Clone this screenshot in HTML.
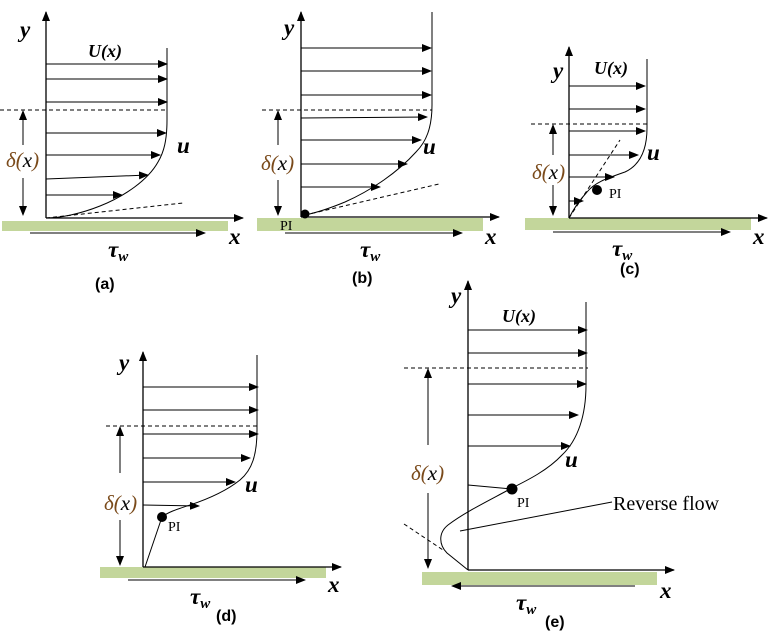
<!DOCTYPE html>
<html><head><meta charset="utf-8"><style>
html,body{margin:0;padding:0;background:#fff}
svg{display:block}
.ax{stroke:#000;stroke-width:1.3;fill:none}
.ar{stroke:#000;stroke-width:1;fill:none}
.cv{stroke:#000;stroke-width:1;fill:none}
.ds{stroke:#000;stroke-width:1;stroke-dasharray:4,3;fill:none}
.bar{fill:#c3d69b}
.lab{font-family:"Liberation Serif",serif;font-style:italic;font-weight:bold;font-size:23px}
.lab2{font-family:"Liberation Serif",serif;font-style:italic;font-weight:bold;font-size:18px}
.dl{font-family:"Liberation Serif",serif;font-style:italic;font-size:21px;fill:#7a4a1a}
.pi{font-family:"Liberation Serif",serif;font-size:14px}
.cap{font-family:"Liberation Sans",sans-serif;font-size:16px;font-weight:bold}
</style></head><body>
<svg width="777" height="633" viewBox="0 0 777 633" xmlns="http://www.w3.org/2000/svg">
<defs>
<marker id="a" markerWidth="10" markerHeight="8" refX="9" refY="4" orient="auto" markerUnits="userSpaceOnUse"><path d="M0,0 L10,4 L0,8 z" fill="#000"/></marker>
</defs>

<!-- (a) -->
<rect class="bar" x="2" y="221" width="226" height="10"/>
<line class="ax" x1="46" y1="218" x2="46" y2="12" marker-end="url(#a)"/>
<line class="ax" x1="46" y1="218" x2="243" y2="218" marker-end="url(#a)"/>
<line class="ar" x1="30" y1="233" x2="205" y2="233" marker-end="url(#a)"/>
<line class="ar" x1="46" y1="64" x2="167" y2="64" marker-end="url(#a)"/>
<line class="ar" x1="46" y1="79" x2="167" y2="79" marker-end="url(#a)"/>
<line class="ar" x1="46" y1="102" x2="167" y2="102" marker-end="url(#a)"/>
<line class="ds" x1="0" y1="110" x2="167" y2="110"/>
<line class="ar" x1="46" y1="133" x2="166" y2="133" marker-end="url(#a)"/>
<line class="ar" x1="46" y1="155" x2="160" y2="155" marker-end="url(#a)"/>
<line class="ar" x1="46" y1="179" x2="148" y2="175" marker-end="url(#a)"/>
<line class="ar" x1="46" y1="195" x2="122" y2="195" marker-end="url(#a)"/>
<path class="cv" d="M167,48 L167,120 C167,140 164,152 158,162 C148,180 125,196 100,206 C80,214 60,218 46,218"/>
<line class="ds" x1="46" y1="218" x2="183" y2="203"/>
<line class="ar" x1="23" y1="145" x2="23" y2="111" marker-end="url(#a)"/>
<line class="ar" x1="23" y1="178" x2="23" y2="215" marker-end="url(#a)"/>
<text class="dl" x="6" y="167">δ(<tspan fill="#000">x</tspan>)</text>
<text class="lab" x="20" y="37">y</text>
<text class="lab2" x="88" y="57">U(x)</text>
<text class="lab" x="177" y="153">u</text>
<text class="lab" x="229" y="244">x</text>
<text class="lab" x="108" y="257">τ<tspan font-size="15" dy="4">w</tspan></text>
<text class="cap" x="95" y="289">(a)</text>

<!-- (b) -->
<rect class="bar" x="257" y="218" width="226" height="13"/>
<line class="ax" x1="301" y1="217" x2="301" y2="12" marker-end="url(#a)"/>
<line class="ax" x1="301" y1="217" x2="499" y2="217" marker-end="url(#a)"/>
<line class="ar" x1="285" y1="233" x2="462" y2="233" marker-end="url(#a)"/>
<line class="ar" x1="301" y1="48" x2="431" y2="48" marker-end="url(#a)"/>
<line class="ar" x1="301" y1="71" x2="431" y2="71" marker-end="url(#a)"/>
<line class="ar" x1="301" y1="95" x2="431" y2="95" marker-end="url(#a)"/>
<line class="ds" x1="262" y1="110" x2="432" y2="110"/>
<line class="ar" x1="301" y1="118" x2="427" y2="117" marker-end="url(#a)"/>
<line class="ar" x1="301" y1="140" x2="421" y2="140" marker-end="url(#a)"/>
<line class="ar" x1="301" y1="164" x2="407" y2="164" marker-end="url(#a)"/>
<line class="ar" x1="301" y1="187" x2="380" y2="187" marker-end="url(#a)"/>
<path class="cv" d="M432,12 L432,105 C432,128 426,142 416,152 C398,172 372,190 345,202 C328,209 315,213 305,215"/>
<line class="ds" x1="305" y1="215" x2="439" y2="184"/>
<circle cx="305" cy="214" r="4.5" fill="#000"/>
<line class="ar" x1="278" y1="145" x2="278" y2="111" marker-end="url(#a)"/>
<line class="ar" x1="278" y1="180" x2="278" y2="215" marker-end="url(#a)"/>
<text class="dl" x="261" y="170">δ(<tspan fill="#000">x</tspan>)</text>
<text class="lab" x="284" y="35">y</text>
<text class="lab" x="423" y="154">u</text>
<text class="pi" x="280" y="230">PI</text>
<text class="lab" x="485" y="244">x</text>
<text class="lab" x="360" y="257">τ<tspan font-size="15" dy="4">w</tspan></text>
<text class="cap" x="352" y="283">(b)</text>

<!-- (c) -->
<rect class="bar" x="525" y="218" width="226" height="12"/>
<line class="ax" x1="569" y1="218" x2="569" y2="47" marker-end="url(#a)"/>
<line class="ax" x1="569" y1="218" x2="767" y2="218" marker-end="url(#a)"/>
<line class="ar" x1="553" y1="232" x2="730" y2="232" marker-end="url(#a)"/>
<line class="ar" x1="569" y1="86" x2="645" y2="86" marker-end="url(#a)"/>
<line class="ar" x1="569" y1="109" x2="645" y2="109" marker-end="url(#a)"/>
<line class="ds" x1="531" y1="124" x2="647" y2="124"/>
<line class="ar" x1="569" y1="131" x2="645" y2="131" marker-end="url(#a)"/>
<line class="ar" x1="569" y1="155" x2="638" y2="155" marker-end="url(#a)"/>
<line class="ar" x1="569" y1="177" x2="614" y2="177" marker-end="url(#a)"/>
<line class="ar" x1="569" y1="201" x2="583" y2="201" marker-end="url(#a)"/>
<path class="cv" d="M647,59 L647,128 C647,150 640,165 625,172 C608,178 595,182 587,192 C578,202 572,212 569,218"/>
<line class="ds" x1="569" y1="218" x2="620" y2="140"/>
<circle cx="597" cy="190" r="5" fill="#000"/>
<line class="ar" x1="553" y1="155" x2="553" y2="125" marker-end="url(#a)"/>
<line class="ar" x1="553" y1="185" x2="553" y2="215" marker-end="url(#a)"/>
<text class="dl" x="532" y="179">δ(<tspan fill="#000">x</tspan>)</text>
<text class="lab" x="553" y="78">y</text>
<text class="lab2" x="594" y="74">U(x)</text>
<text class="lab" x="647" y="160">u</text>
<text class="pi" x="609" y="198">PI</text>
<text class="lab" x="753" y="244">x</text>
<text class="lab" x="612" y="256">τ<tspan font-size="15" dy="4">w</tspan></text>
<text class="cap" x="620" y="274">(c)</text>

<!-- (d) -->
<rect class="bar" x="100" y="567" width="226" height="11"/>
<line class="ax" x1="143" y1="567" x2="143" y2="352" marker-end="url(#a)"/>
<line class="ax" x1="143" y1="567" x2="341" y2="567" marker-end="url(#a)"/>
<line class="ar" x1="128" y1="580" x2="305" y2="580" marker-end="url(#a)"/>
<line class="ar" x1="143" y1="387" x2="258" y2="387" marker-end="url(#a)"/>
<line class="ar" x1="143" y1="410" x2="258" y2="410" marker-end="url(#a)"/>
<line class="ds" x1="106" y1="426" x2="257" y2="426"/>
<line class="ar" x1="143" y1="434" x2="258" y2="434" marker-end="url(#a)"/>
<line class="ar" x1="143" y1="458" x2="250" y2="458" marker-end="url(#a)"/>
<line class="ar" x1="143" y1="482" x2="235" y2="482" marker-end="url(#a)"/>
<line class="ar" x1="143" y1="505" x2="199" y2="506" marker-end="url(#a)"/>
<path class="cv" d="M257,355 L257,430 C257,455 252,470 240,480 C225,492 205,500 190,505 C178,509 168,512 162,517 L145,567"/>
<circle cx="162" cy="517" r="5" fill="#000"/>
<line class="ar" x1="120" y1="473" x2="120" y2="427" marker-end="url(#a)"/>
<line class="ar" x1="120" y1="520" x2="120" y2="565" marker-end="url(#a)"/>
<text class="dl" x="104" y="510">δ(<tspan fill="#000">x</tspan>)</text>
<text class="lab" x="119" y="370">y</text>
<text class="lab" x="245" y="492">u</text>
<text class="pi" x="168" y="531">PI</text>
<text class="lab" x="328" y="592">x</text>
<text class="lab" x="190" y="604">τ<tspan font-size="15" dy="4">w</tspan></text>
<text class="cap" x="216" y="621">(d)</text>

<!-- (e) -->
<rect class="bar" x="422" y="572" width="235" height="13"/>
<line class="ax" x1="468" y1="570" x2="468" y2="281" marker-end="url(#a)"/>
<line class="ax" x1="468" y1="570" x2="674" y2="570" marker-end="url(#a)"/>
<line class="ar" x1="635" y1="586" x2="452" y2="586" marker-end="url(#a)"/>
<line class="ar" x1="468" y1="330" x2="587" y2="330" marker-end="url(#a)"/>
<line class="ar" x1="468" y1="353" x2="587" y2="353" marker-end="url(#a)"/>
<line class="ds" x1="404" y1="368" x2="588" y2="368"/>
<line class="ar" x1="468" y1="384" x2="586" y2="384" marker-end="url(#a)"/>
<line class="ar" x1="468" y1="415" x2="578" y2="415" marker-end="url(#a)"/>
<line class="ar" x1="468" y1="446" x2="570" y2="446" marker-end="url(#a)"/>
<path class="cv" d="M586,302 L586,385 C586,415 578,440 562,455 C548,470 528,480 512,488 C490,500 465,512 448,525 C438,533 439,545 447,553 L468,570"/>
<line class="cv" x1="468" y1="485" x2="512" y2="489"/>
<circle cx="512" cy="489" r="5.5" fill="#000"/>
<line class="ds" x1="404" y1="524" x2="443" y2="550"/>
<line class="cv" x1="460" y1="531" x2="612" y2="502"/>
<line class="ar" x1="428" y1="445" x2="428" y2="369" marker-end="url(#a)"/>
<line class="ar" x1="428" y1="493" x2="428" y2="568" marker-end="url(#a)"/>
<text class="dl" x="411" y="480">δ(<tspan fill="#000">x</tspan>)</text>
<text class="lab" x="451" y="303">y</text>
<text class="lab2" x="502" y="322">U(x)</text>
<text class="lab" x="565" y="467">u</text>
<text class="pi" x="517" y="507">PI</text>
<text x="613" y="510" font-family="Liberation Serif,serif" font-size="20">Reverse flow</text>
<text class="lab" x="660" y="598">x</text>
<text class="lab" x="516" y="610">τ<tspan font-size="15" dy="4">w</tspan></text>
<text class="cap" x="545" y="627">(e)</text>
</svg>
</body></html>
